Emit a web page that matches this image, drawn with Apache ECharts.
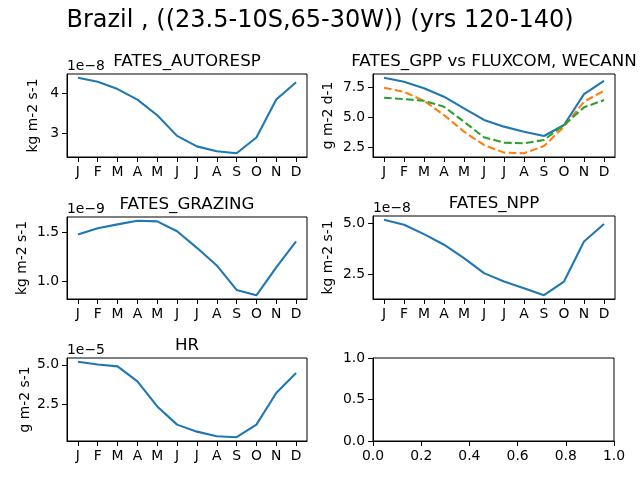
<!DOCTYPE html>
<html>
<head>
<meta charset="utf-8">
<script src="https://cdn.jsdelivr.net/npm/echarts@6/dist/echarts.min.js"></script>
<style>html,body{margin:0;padding:0;background:#fff}#chart{width:640px;height:480px}</style>
</head>
<body>
<div id="chart"></div>
<script>
// monthly means, values shown in the units of each panel's offset (1e-8 etc.)
var months = ['J','F','M','A','M','J','J','A','S','O','N','D'];
var autoresp = [4.38, 4.28, 4.10, 3.84, 3.45, 2.94, 2.68, 2.56, 2.51, 2.90, 3.84, 4.27];
var gppFates = [8.30, 7.97, 7.42, 6.72, 5.75, 4.78, 4.22, 3.80, 3.44, 4.36, 6.94, 8.05];
var gppFluxcom = [7.47, 7.13, 6.38, 5.19, 3.80, 2.69, 2.05, 2.00, 2.60, 4.22, 6.30, 7.22];
var gppWecann = [6.63, 6.52, 6.38, 5.88, 4.63, 3.33, 2.88, 2.83, 3.11, 4.36, 5.83, 6.44];
var grazing = [1.477, 1.54, 1.58, 1.617, 1.61, 1.51, 1.34, 1.16, 0.91, 0.855, 1.14, 1.405];
var npp = [5.16, 4.92, 4.46, 3.94, 3.28, 2.55, 2.14, 1.81, 1.47, 2.14, 4.10, 4.95];
var hr = [5.19, 5.02, 4.90, 3.96, 2.39, 1.25, 0.81, 0.52, 0.46, 1.25, 3.23, 4.48];

var autorespTicks = [3, 4];
var gppTicks = [2.5, 5.0, 7.5];
var grazingTicks = [1.0, 1.5];
var nppTicks = [2.5, 5.0];
var hrTicks = [2.5, 5.0];
var emptyXTicks = [0, 0.2, 0.4, 0.6, 0.8, 1.0];
var emptyYTicks = [0, 0.5, 1.0];

var FONT = 'DejaVu Sans';
var BLUE = '#1f77b4', ORANGE = '#ff7f0e', GREEN = '#2ca02c';
var monthIdx = months.map(function (m, i) { return i; });

var panels = [
    {box: [67, 74, 240, 83], title: 'FATES_AUTORESP', unit: 'kg m-2 s-1', offset: '1e\u22128',
     ticks: autorespTicks, dec: 0, gap: 27, lines: [[autoresp, BLUE, 'solid']]},
    {box: [373, 74, 242, 83], title: 'FATES_GPP vs FLUXCOM, WECANN', unit: 'g m-2 d-1', offset: '',
     ticks: gppTicks, dec: 1, gap: 38, lines: [[gppFates, BLUE, 'solid'], [gppFluxcom, ORANGE, 'dashed'], [gppWecann, GREEN, 'dashed']]},
    {box: [67, 217, 240, 82], title: 'FATES_GRAZING', unit: 'kg m-2 s-1', offset: '1e\u22129',
     ticks: grazingTicks, dec: 1, gap: 38, lines: [[grazing, BLUE, 'solid']]},
    {box: [373, 216, 242, 83], title: 'FATES_NPP', unit: 'kg m-2 s-1', offset: '1e\u22128',
     ticks: nppTicks, dec: 1, gap: 38, lines: [[npp, BLUE, 'solid']]},
    {box: [67, 358, 240, 83], title: 'HR', unit: 'g m-2 s-1', offset: '1e\u22125',
     ticks: hrTicks, dec: 1, gap: 35, lines: [[hr, BLUE, 'solid']]}
];

var labelStyle = {color: '#000', fontSize: 13.9, fontFamily: FONT};
var grids = [], xAxes = [], yAxes = [], series = [];
var graphics = [{
    type: 'text', x: 320, y: 21,
    style: {text: 'Brazil , ((23.5-10S,65-30W)) (yrs 120-140)', font: '24px "DejaVu Sans"',
            fill: '#000', textAlign: 'center', textVerticalAlign: 'middle'}
}];

function axisBase(i) {
    return {
        gridIndex: i, type: 'value',
        axisLine: {show: true, onZero: false, lineStyle: {color: '#000', width: 1}},
        splitLine: {show: false}
    };
}

panels.forEach(function (p, i) {
    grids.push({left: p.box[0], top: p.box[1], width: p.box[2], height: p.box[3],
                show: true, borderColor: '#000', borderWidth: 1, backgroundColor: '#fff'});

    var lo = Infinity, hi = -Infinity;
    p.lines.forEach(function (l) {
        lo = Math.min(lo, Math.min.apply(null, l[0]));
        hi = Math.max(hi, Math.max.apply(null, l[0]));
    });
    var pad = (hi - lo) * 0.05;

    var xa = axisBase(i);
    xa.min = -0.55; xa.max = 11.55;
    xa.axisTick = {show: true, length: 5, lineStyle: {color: '#000'}, customValues: monthIdx};
    xa.axisLabel = Object.assign({customValues: monthIdx, margin: 8,
        formatter: function (v) { return months[Math.round(v)]; }}, labelStyle);
    xAxes.push(xa);

    var ya = axisBase(i);
    ya.min = lo - pad; ya.max = hi + pad;
    ya.name = p.unit; ya.nameLocation = 'middle'; ya.nameRotate = 90; ya.nameGap = p.gap;
    ya.nameTextStyle = labelStyle;
    ya.axisTick = {show: true, length: 5, lineStyle: {color: '#000'}, customValues: p.ticks};
    (function (dec) {
        ya.axisLabel = Object.assign({customValues: p.ticks, margin: 8,
            formatter: function (v) { return v.toFixed(dec); }}, labelStyle);
    })(p.dec);
    yAxes.push(ya);

    p.lines.forEach(function (l) {
        series.push({
            type: 'line', xAxisIndex: i, yAxisIndex: i, symbol: 'none',
            data: l[0].map(function (v, k) { return [k, v]; }),
            lineStyle: {color: l[1], width: 2.1, type: l[2] === 'dashed' ? [7.7, 3.3] : 'solid'}
        });
    });

    graphics.push({
        type: 'text', x: p.box[0] + p.box[2] / 2, y: p.box[1] - 12,
        style: {text: p.title, font: '16.7px "DejaVu Sans"', fill: '#000',
                textAlign: 'center', textVerticalAlign: 'middle'}
    });
    if (p.offset) {
        graphics.push({
            type: 'text', x: p.box[0], y: p.box[1] - 8,
            style: {text: p.offset, font: '13.9px "DejaVu Sans"', fill: '#000',
                    textAlign: 'left', textVerticalAlign: 'middle'}
        });
    }
});

// the unused sixth axes
grids.push({left: 373, top: 358, width: 241, height: 83,
            show: true, borderColor: '#000', borderWidth: 1, backgroundColor: '#fff'});
var ex = axisBase(5);
ex.min = 0; ex.max = 1;
ex.axisTick = {show: true, length: 5, lineStyle: {color: '#000'}, customValues: emptyXTicks};
ex.axisLabel = Object.assign({customValues: emptyXTicks, margin: 8,
    formatter: function (v) { return v.toFixed(1); }}, labelStyle);
xAxes.push(ex);
var ey = axisBase(5);
ey.min = 0; ey.max = 1;
ey.axisTick = {show: true, length: 5, lineStyle: {color: '#000'}, customValues: emptyYTicks};
ey.axisLabel = Object.assign({customValues: emptyYTicks, margin: 8,
    formatter: function (v) { return v.toFixed(1); }}, labelStyle);
yAxes.push(ey);

var chart = echarts.init(document.getElementById('chart'));
chart.setOption({
    animation: false,
    backgroundColor: '#fff',
    textStyle: {fontFamily: FONT},
    grid: grids,
    xAxis: xAxes,
    yAxis: yAxes,
    series: series,
    graphic: graphics
});
</script>
</body>
</html>
